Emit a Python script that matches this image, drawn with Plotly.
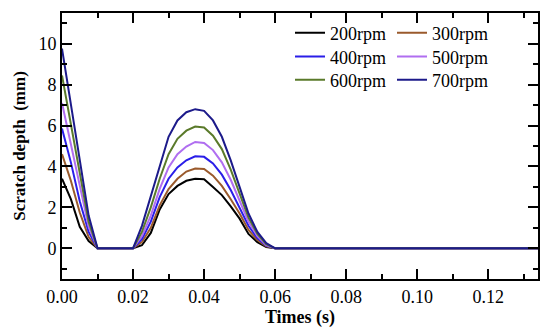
import plotly.graph_objects as go

# time axis points (s)
times = [0, 0.0025, 0.005, 0.0075, 0.01,
         0.02, 0.0225, 0.025, 0.0275, 0.03, 0.0325, 0.035, 0.0375, 0.04,
         0.0425, 0.045, 0.0475, 0.05, 0.0525, 0.055, 0.0575, 0.06, 0.135]

depth_200 = [3.4, 2.4, 1.05, 0.35, 0,
             0, 0.15, 0.75, 1.9, 2.65, 3.05, 3.3, 3.4, 3.38, 3.0, 2.6, 2.05, 1.45, 0.7, 0.3, 0.06, 0, 0]
depth_300 = [4.6, 3.3, 1.75, 0.55, 0,
             0, 0.3, 1.0, 2.1, 2.9, 3.4, 3.75, 3.9, 3.88, 3.55, 3.05, 2.4, 1.7, 0.9, 0.4, 0.1, 0, 0]
depth_400 = [5.85, 4.2, 2.3, 0.8, 0,
             0, 0.45, 1.3, 2.5, 3.4, 3.95, 4.3, 4.5, 4.47, 4.15, 3.6, 2.85, 2.0, 1.1, 0.5, 0.13, 0, 0]
depth_500 = [7.1, 5.1, 2.95, 1.05, 0,
             0, 0.6, 1.6, 2.9, 3.95, 4.6, 4.97, 5.2, 5.15, 4.8, 4.2, 3.35, 2.3, 1.3, 0.6, 0.16, 0, 0]
depth_600 = [8.45, 6.1, 3.6, 1.3, 0,
             0, 0.8, 2.0, 3.4, 4.6, 5.35, 5.75, 5.95, 5.9, 5.5, 4.85, 3.85, 2.65, 1.5, 0.7, 0.2, 0, 0]
depth_700 = [9.76, 7.05, 4.3, 1.6, 0,
             0, 1.1, 2.55, 4.05, 5.45, 6.25, 6.65, 6.8, 6.72, 6.25, 5.45, 4.3, 2.95, 1.7, 0.8, 0.25, 0, 0]

series_names = ["200rpm", "300rpm", "400rpm", "500rpm", "600rpm", "700rpm"]
series_values = [depth_200, depth_300, depth_400, depth_500, depth_600, depth_700]
colors = ["#000000", "#9a5a2c", "#2a1ee8", "#b06ef0", "#5a7a2a", "#1c1a8a"]
legend_ids = ["legend", "legend", "legend2", "legend2", "legend3", "legend3"]

fig = go.Figure()
for name, vals, col, lg in zip(series_names, series_values, colors, legend_ids):
    fig.add_trace(go.Scatter(x=times, y=vals, mode="lines", name=name,
                             line=dict(color=col, width=2), legend=lg))

font_family = "Liberation Serif, Times New Roman, serif"
legend_common = dict(bgcolor="rgba(0,0,0,0)", borderwidth=0,
                     font=dict(family=font_family, size=18, color="black"),
                     orientation="h", entrywidth=57, traceorder="normal",
                     x=0.479, xanchor="left", yanchor="middle")

fig.update_layout(
    template="none",
    width=550, height=336,
    margin=dict(l=62, r=12, t=13, b=57),
    paper_bgcolor="white", plot_bgcolor="white",
    font=dict(family=font_family, size=18, color="black"),
    showlegend=True,
    legend=dict(y=0.925, **legend_common),
    legend2=dict(y=0.835, **legend_common),
    legend3=dict(y=0.748, **legend_common),
    xaxis=dict(range=[0, 0.134], tick0=0, dtick=0.02, tickformat=".2f",
               ticks="inside", ticklen=10, tickwidth=2, tickcolor="black",
               minor=dict(dtick=0.01, ticks="inside", ticklen=5, tickwidth=2, tickcolor="black"),
               showline=True, linecolor="black", linewidth=2, mirror="ticks",
               showgrid=False, zeroline=False, automargin=False,
               title=dict(text="<b>Times (s)</b>", font=dict(size=18), standoff=4)),
    yaxis=dict(range=[-1.5, 11.5], tick0=0, dtick=2,
               ticks="inside", ticklen=10, tickwidth=2, tickcolor="black",
               minor=dict(dtick=1, ticks="inside", ticklen=5, tickwidth=2, tickcolor="black"),
               showline=True, linecolor="black", linewidth=2, mirror="ticks",
               showgrid=False, zeroline=False, automargin=False,
               title=dict(text="<b>Scratch depth  (mm)</b>", font=dict(size=17), standoff=8)),
)

fig.write_html("out.html", config={"displayModeBar": False},
               post_script="document.body.style.margin='0px';")
